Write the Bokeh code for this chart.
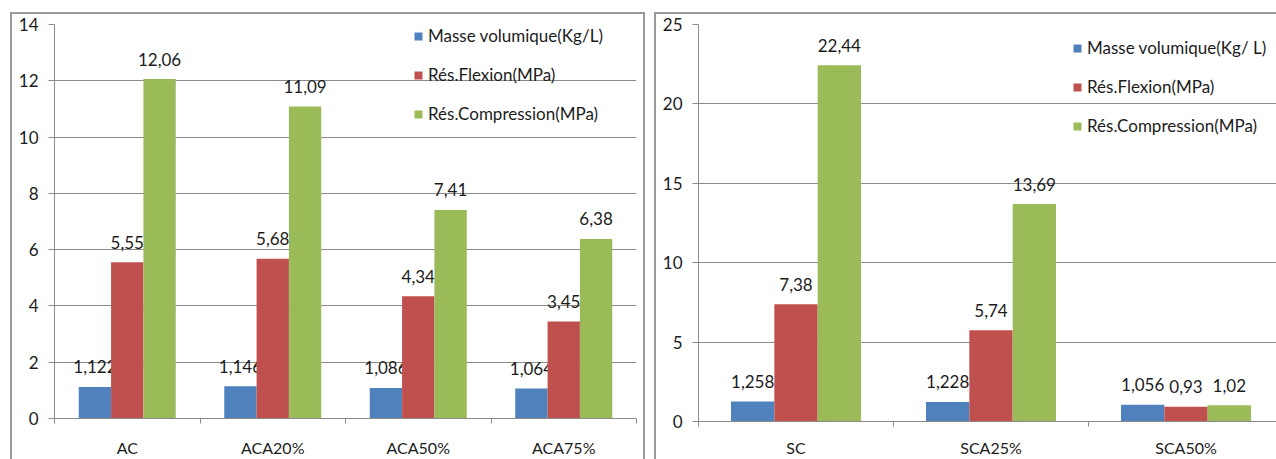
from bokeh.plotting import figure
from bokeh.models import (Range1d, FixedTicker, LinearAxis, Grid, Legend, LegendItem,
                          ColumnDataSource)
from bokeh.layouts import row
from bokeh.embed import file_html
from bokeh.resources import INLINE
from bokeh.core.properties import value

# ---- data -------------------------------------------------------------
left_categories = ["AC", "ACA20%", "ACA50%", "ACA75%"]
left_masse = [1.122, 1.146, 1.086, 1.064]
left_flexion = [5.55, 5.68, 4.34, 3.45]
left_compression = [12.06, 11.09, 7.41, 6.38]
left_names = ["Masse volumique(Kg/L)", "Rés.Flexion(MPa)", "Rés.Compression(MPa)"]
left_yticks = [0, 2, 4, 6, 8, 10, 12, 14]

right_categories = ["SC", "SCA25%", "SCA50%"]
right_masse = [1.258, 1.228, 1.056]
right_flexion = [7.38, 5.74, 0.93]
right_compression = [22.44, 13.69, 1.02]
right_names = ["Masse volumique(Kg/ L)", "Rés.Flexion(MPa)", "Rés.Compression(MPa)"]
right_yticks = [0, 5, 10, 15, 20, 25]

# ---- style ------------------------------------------------------------
COLORS = ["#4F81BD", "#C0504D", "#9BBB59"]
FONT = "Lato"
TEXT = "#1c1c1c"
GRAY = "#8a8a8a"
FS = "17px"
BAR_W = 2 / 9  # three bars fill two thirds of each category slot


def fr(v):
    return f"{v:g}".replace(".", ",")


def build(categories, series, names, yticks, width, x_end, border_left, border_right,
          border_bottom, xlabel_standoff, legend_xy, legend_spacing, margin):
    n = len(categories)
    p = figure(width=width, height=447, x_range=Range1d(0, x_end),
               y_range=Range1d(yticks[0], yticks[-1]),
               x_axis_type=None, y_axis_type=None,
               output_backend="svg", toolbar_location=None,
               min_border_left=border_left, min_border_right=border_right,
               min_border_top=12, min_border_bottom=border_bottom)
    p.frame_align = False
    p.outline_line_color = None
    p.background_fill_color = "white"
    p.border_fill_color = None
    p.margin = margin

    yticker = FixedTicker(ticks=yticks, minor_ticks=[])
    yax = LinearAxis(ticker=yticker)
    yax.axis_line_color = GRAY
    yax.major_tick_line_color = GRAY
    yax.major_tick_out = 6
    yax.major_tick_in = 0
    yax.minor_tick_line_color = None
    yax.major_label_standoff = 10
    yax.major_label_text_font = FONT
    yax.major_label_text_font_size = FS
    yax.major_label_text_color = TEXT
    p.add_layout(yax, "left")
    p.add_layout(Grid(dimension=1, ticker=yticker, grid_line_color=GRAY, grid_line_width=1))

    centers = [i + 0.5 for i in range(n)]
    xticker = FixedTicker(ticks=centers, minor_ticks=list(range(n + 1)))
    xax = LinearAxis(ticker=xticker)
    xax.major_label_overrides = {c: cat for c, cat in zip(centers, categories)}
    xax.axis_line_color = GRAY
    xax.major_tick_line_color = None
    xax.major_tick_out = 0
    xax.major_tick_in = 0
    xax.minor_tick_line_color = GRAY
    xax.minor_tick_out = 5
    xax.minor_tick_in = 0
    xax.major_label_standoff = xlabel_standoff
    xax.major_label_text_font = FONT
    xax.major_label_text_font_size = "16px"
    xax.major_label_text_color = TEXT
    p.add_layout(xax, "below")

    items = []
    for k, (vals, color, name) in enumerate(zip(series, COLORS, names)):
        xs = [c + (k - 1) * BAR_W for c in centers]
        src = ColumnDataSource(dict(x=xs, top=vals, label=[fr(v) for v in vals]))
        r = p.vbar(x="x", top="top", width=BAR_W, source=src,
                   fill_color=color, line_color=None)
        p.text(x="x", y="top", text="label", source=src, text_align="center",
               text_baseline="alphabetic", y_offset=-20,
               text_font=value(FONT), text_font_size=FS, text_color=TEXT)
        items.append(LegendItem(label=name, renderers=[r]))

    legend = Legend(items=items, location=legend_xy, orientation="vertical",
                    background_fill_alpha=0, border_line_color=None,
                    glyph_width=10, glyph_height=10, label_standoff=5,
                    label_height=20, spacing=legend_spacing, padding=0, margin=0,
                    label_text_font=FONT, label_text_font_size=FS,
                    label_text_color=TEXT)
    p.add_layout(legend)
    return p


left = build(left_categories, [left_masse, left_flexion, left_compression], left_names,
             left_yticks, width=635, x_end=len(left_categories),
             border_left=44, border_right=9, border_bottom=41, xlabel_standoff=14,
             legend_xy=(359, 294), legend_spacing=18, margin=(12, 0, 0, 10))
left.styles = {"box-shadow": "inset 2px 2px 0 0 #9a9a9a, inset -2px 0 0 0 #9a9a9a"}

right = build(right_categories, [right_masse, right_flexion, right_compression], right_names,
              right_yticks, width=622, x_end=578 / 195,
              border_left=44, border_right=0, border_bottom=36, xlabel_standoff=11,
              legend_xy=(374, 285), legend_spacing=18, margin=(12, 0, 0, 9))
right.styles = {"box-shadow": "inset 2px 2px 0 0 #9a9a9a"}

page = row(left, right)
open("out.html", "w").write(file_html(page, INLINE))
